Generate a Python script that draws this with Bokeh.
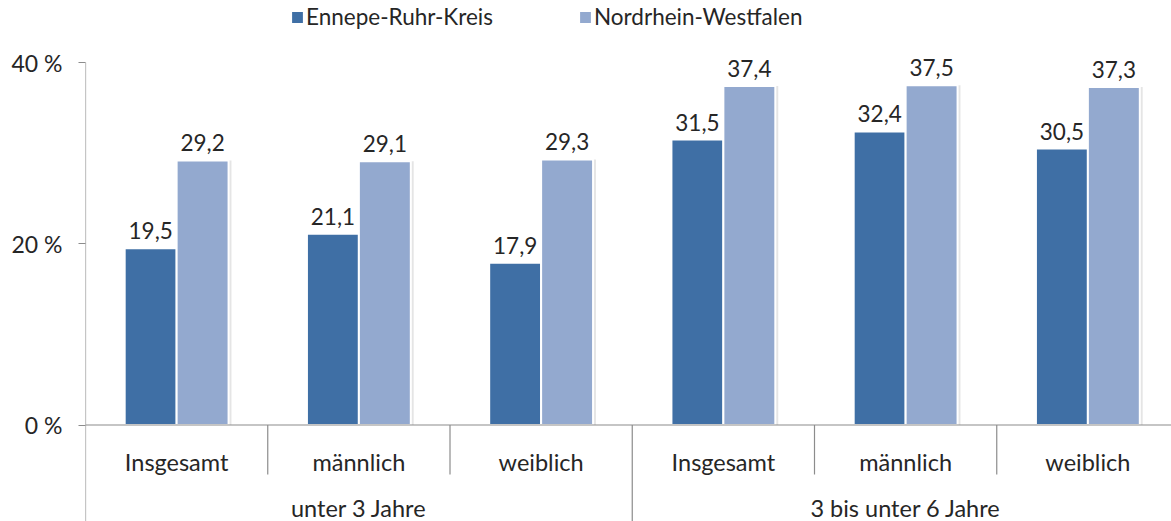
from bokeh.plotting import figure
from bokeh.models import ColumnDataSource, Range1d, FixedTicker, Legend, LegendItem
from bokeh.embed import file_html
from bokeh.resources import INLINE
from bokeh.core.properties import value

# ---- data ----
subgroups = ["Insgesamt", "männlich", "weiblich", "Insgesamt", "männlich", "weiblich"]
groups = ["unter 3 Jahre", "3 bis unter 6 Jahre"]
group_sizes = [3, 3]
series_names = ["Ennepe-Ruhr-Kreis", "Nordrhein-Westfalen"]
ennepe = [19.5, 21.1, 17.9, 31.5, 32.4, 30.5]
nrw = [29.2, 29.1, 29.3, 37.4, 37.5, 37.3]
y_ticks = [0, 20, 40]
y_tick_labels = ["0 %", "20 %", "40 %"]

# ---- styling ----
C_ENN = "#3F6FA5"
C_NRW = "#93A9CF"
AXIS_C = "#8C8C8C"
TXT_C = "#262626"
FONT = "Lato"

W, H = 1171, 521
left_border = 85
px_per_unit = (424.5 - 62) / 40
y_top = 40 + 62 / px_per_unit
y_bot = -(H - 424.5) / px_per_unit
cat_w_px = 182.25
x_end = (W - left_border) / cat_w_px


def ypix(py):
    return -(py - 424.5) / px_per_unit


p = figure(width=W, height=H, output_backend="svg", toolbar_location=None,
           x_range=Range1d(0, x_end), y_range=Range1d(y_bot, y_top),
           min_border_left=left_border, min_border_right=0,
           min_border_top=0, min_border_bottom=0)
p.outline_line_color = None
p.xgrid.visible = False
p.ygrid.visible = False
p.xaxis.visible = False

ya = p.yaxis[0]
ya.ticker = FixedTicker(ticks=y_ticks)
ya.major_label_overrides = {t: l for t, l in zip(y_ticks, y_tick_labels)}
ya.axis_line_color = None
ya.major_tick_line_color = AXIS_C
ya.major_tick_line_width = 1.2
ya.major_tick_out = 7
ya.major_tick_in = 0
ya.minor_tick_line_color = None
ya.major_label_standoff = 16
ya.major_label_text_font = FONT
ya.major_label_text_font_size = "23px"
ya.major_label_text_color = TXT_C

n = len(subgroups)
xc = [i + 0.5 for i in range(n)]
off = 0.1425
bw = 0.285
x_e = [x - off for x in xc]
x_n = [x + off for x in xc]

src = ColumnDataSource(dict(
    xe=x_e, xn=x_n, ye=ennepe, yn=nrw,
    xes=[x + 0.016 for x in x_e], xns=[x + 0.016 for x in x_n],
    le=[f"{v:.1f}".replace(".", ",") for v in ennepe],
    ln=[f"{v:.1f}".replace(".", ",") for v in nrw],
))

# soft shadows
p.vbar(x="xes", top="ye", width=bw, bottom=0, source=src, fill_color="#000000",
       fill_alpha=0.10, line_color=None)
p.vbar(x="xns", top="yn", width=bw, bottom=0, source=src, fill_color="#000000",
       fill_alpha=0.10, line_color=None)

r_e = p.vbar(x="xe", top="ye", width=bw, bottom=0, source=src, fill_color=C_ENN,
             line_color="white", line_width=2)
r_n = p.vbar(x="xn", top="yn", width=bw, bottom=0, source=src, fill_color=C_NRW,
             line_color="white", line_width=2)

for xk, yk, lk in (("xe", "ye", "le"), ("xn", "yn", "ln")):
    p.text(x=xk, y=yk, text=lk, source=src, text_align="center",
           text_baseline="bottom", y_offset=-9, text_font=value(FONT),
           text_font_size="22.5px", text_color=TXT_C)

# axis lines drawn in data space
p.segment(x0=[0], y0=[y_bot], x1=[0], y1=[40], line_color=AXIS_C, line_width=1.2)
p.segment(x0=[0], y0=[0], x1=[x_end], y1=[0], line_color=AXIS_C, line_width=1.2)

# category separators
sep_short = ypix(474)
bounds = []
acc = 0
for g in group_sizes:
    acc += g
    bounds.append(acc)
sx, sy0, sy1 = [], [], []
for i in range(1, n):
    sx.append(i)
    sy0.append(0)
    sy1.append(y_bot if i in bounds else sep_short)
p.segment(x0=sx, y0=sy0, x1=sx, y1=sy1, line_color=AXIS_C, line_width=1.2)

# category labels
CAT_FS = "23.5px"
p.text(x=xc, y=[ypix(461)] * n, text=subgroups, text_align="center", text_baseline="middle",
       text_font=value(FONT), text_font_size=CAT_FS, text_color=TXT_C)
gx = []
start = 0
for g in group_sizes:
    gx.append(start + g / 2)
    start += g
p.text(x=gx, y=[ypix(507)] * len(groups), text=groups, text_align="center",
       text_baseline="middle", text_font=value(FONT), text_font_size=CAT_FS, text_color=TXT_C)

legend = Legend(items=[LegendItem(label=series_names[0], renderers=[r_e]),
                       LegendItem(label=series_names[1], renderers=[r_n])],
                orientation="horizontal", location=(204, 491),
                border_line_color=None, background_fill_alpha=0,
                padding=0, margin=0, spacing=84, glyph_width=16, glyph_height=16,
                label_standoff=1, label_text_font=FONT, label_text_font_size="22.5px",
                label_text_color=TXT_C)
p.add_layout(legend, "center")

open("out.html", "w").write(file_html(p, INLINE))
